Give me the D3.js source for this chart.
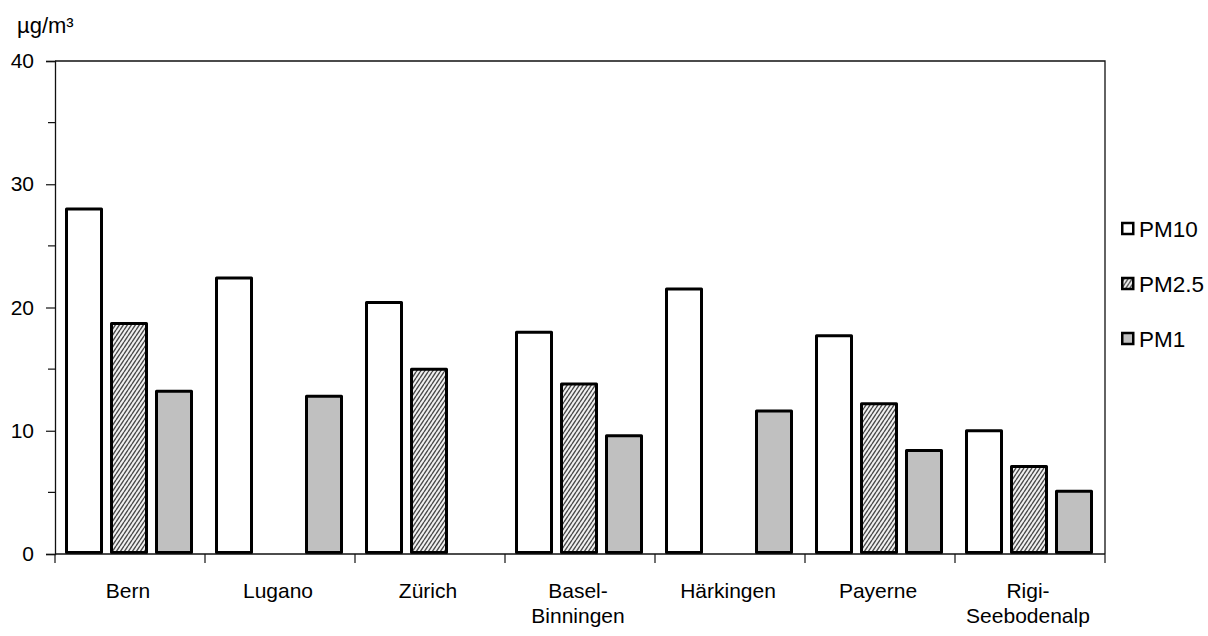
<!DOCTYPE html>
<html>
<head>
<meta charset="utf-8">
<script src="https://cdn.jsdelivr.net/npm/d3@7"></script>
<style>
  html, body { margin: 0; padding: 0; background: #fff; }
  svg { display: block; font-family: "Liberation Sans", Arial, sans-serif; }
</style>
</head>
<body>
<svg id="chart" width="1208" height="636"></svg>
<script>
// Stations (second line of a label after "\n")
const stations = ["Bern", "Lugano", "Zürich", "Basel-\nBinningen", "Härkingen", "Payerne", "Rigi-\nSeebodenalp"];
const seriesNames = ["PM10", "PM2.5", "PM1"];
// Mean concentrations in µg/m³ (null = not measured)
const pm10  = [28.0, 22.4, 20.4, 18.0, 21.5, 17.7, 10.0];
const pm25  = [18.7, null, 15.0, 13.8, null, 12.2, 7.1];
const pm1   = [13.2, 12.8, null, 9.6, 11.6, 8.4, 5.1];
const yTicks = [0, 10, 20, 30, 40];
const yMinorTicks = [5, 15, 25, 35];
const unitLabel = "µg/m³";

const seriesValues = [pm10, pm25, pm1];

const svg = d3.select("#chart");
const plotLeft = 55, plotRight = 1105, plotTop = 61, plotBottom = 554;

const defs = svg.append("defs");
const hatch = defs.append("pattern")
  .attr("id", "hatch")
  .attr("patternUnits", "userSpaceOnUse")
  .attr("width", 4).attr("height", 6);
hatch.append("rect").attr("width", 4).attr("height", 6).attr("fill", "#f2f2f2");
hatch.append("path")
  .attr("d", "M0,6 L4,0 M-2,3 L0,0 M4,6 L6,3")
  .attr("stroke", "#4a4a4a").attr("stroke-width", 1.4);

const fills = { "PM10": "#ffffff", "PM2.5": "url(#hatch)", "PM1": "#c0c0c0" };

const x = d3.scaleBand().domain(stations).range([plotLeft, plotRight]).padding(0);
const xs = d3.scaleBand().domain(seriesNames).range([11.5, 136.5]).paddingInner(10 / 45).paddingOuter(0);
const y = d3.scaleLinear().domain([0, 40]).range([plotBottom, plotTop]);

// Plot frame (top and right edges)
svg.append("path")
  .attr("d", `M${plotLeft},${plotTop}H${plotRight}V${plotBottom}`)
  .attr("fill", "none").attr("stroke", "#111").attr("stroke-width", 1.3);

// Bars
const rows = [];
stations.forEach((s, i) => {
  seriesNames.forEach((n, j) => {
    const v = seriesValues[j][i];
    if (v != null) rows.push({ station: s, series: n, value: v });
  });
});

svg.append("g").selectAll("rect").data(rows).join("rect")
  .attr("x", d => x(d.station) + xs(d.series))
  .attr("y", d => y(d.value))
  .attr("width", xs.bandwidth())
  .attr("height", d => y(0) - 1.5 - y(d.value))
  .attr("fill", d => fills[d.series])
  .attr("stroke", "#000")
  .attr("stroke-width", 3)
  .attr("stroke-linejoin", "round");

// Y axis
const yAxis = d3.axisLeft(y).tickValues(yTicks).tickSize(9).tickPadding(12).tickFormat(d3.format("d"));
const gy = svg.append("g").attr("transform", `translate(${plotLeft},0)`).call(yAxis);
gy.select(".domain").attr("stroke", "#111").attr("stroke-width", 1.3);
gy.selectAll(".tick line").attr("stroke", "#111").attr("stroke-width", 1.2);
gy.selectAll(".tick text").attr("font-size", 21).attr("fill", "#000").attr("font-family", "Liberation Sans, Arial, sans-serif");
svg.append("g").selectAll("line").data(yMinorTicks).join("line")
  .attr("x1", plotLeft - 7).attr("x2", plotLeft)
  .attr("y1", d => y(d)).attr("y2", d => y(d))
  .attr("stroke", "#111").attr("stroke-width", 1.2);

// X axis: ticks at category boundaries
svg.append("line")
  .attr("x1", plotLeft).attr("x2", plotRight).attr("y1", plotBottom).attr("y2", plotBottom)
  .attr("stroke", "#111").attr("stroke-width", 1.3);
const boundaries = stations.map(s => x(s)).concat([plotRight]);
svg.append("g").selectAll("line").data(boundaries).join("line")
  .attr("x1", d => d).attr("x2", d => d)
  .attr("y1", plotBottom).attr("y2", plotBottom + 9)
  .attr("stroke", "#111").attr("stroke-width", 1.2);

const xl = svg.append("g").selectAll("text").data(stations).join("text")
  .attr("x", d => x(d) + x.bandwidth() / 2 - 2)
  .attr("y", 598)
  .attr("text-anchor", "middle")
  .attr("font-size", 21)
  .attr("fill", "#000");
xl.each(function(d) {
  const lines = d.split("\n");
  d3.select(this).selectAll("tspan").data(lines).join("tspan")
    .attr("x", x(d) + x.bandwidth() / 2 - 2)
    .attr("dy", (l, k) => k === 0 ? 0 : 25)
    .text(l => l);
});

// Unit label
svg.append("text")
  .attr("x", 17).attr("y", 33)
  .attr("font-size", 22).attr("fill", "#000")
  .text(unitLabel);

// Legend
const legend = svg.append("g").selectAll("g").data(seriesNames).join("g")
  .attr("transform", (d, i) => `translate(1121,${228.5 + i * 55})`);
legend.append("rect")
  .attr("x", 1.25).attr("y", -5.5)
  .attr("width", 11).attr("height", 11)
  .attr("fill", d => fills[d])
  .attr("stroke", "#000").attr("stroke-width", 2.5);
legend.append("text")
  .attr("x", 18).attr("y", 8)
  .attr("font-size", 22.5).attr("fill", "#000")
  .text(d => d);
</script>
</body>
</html>
